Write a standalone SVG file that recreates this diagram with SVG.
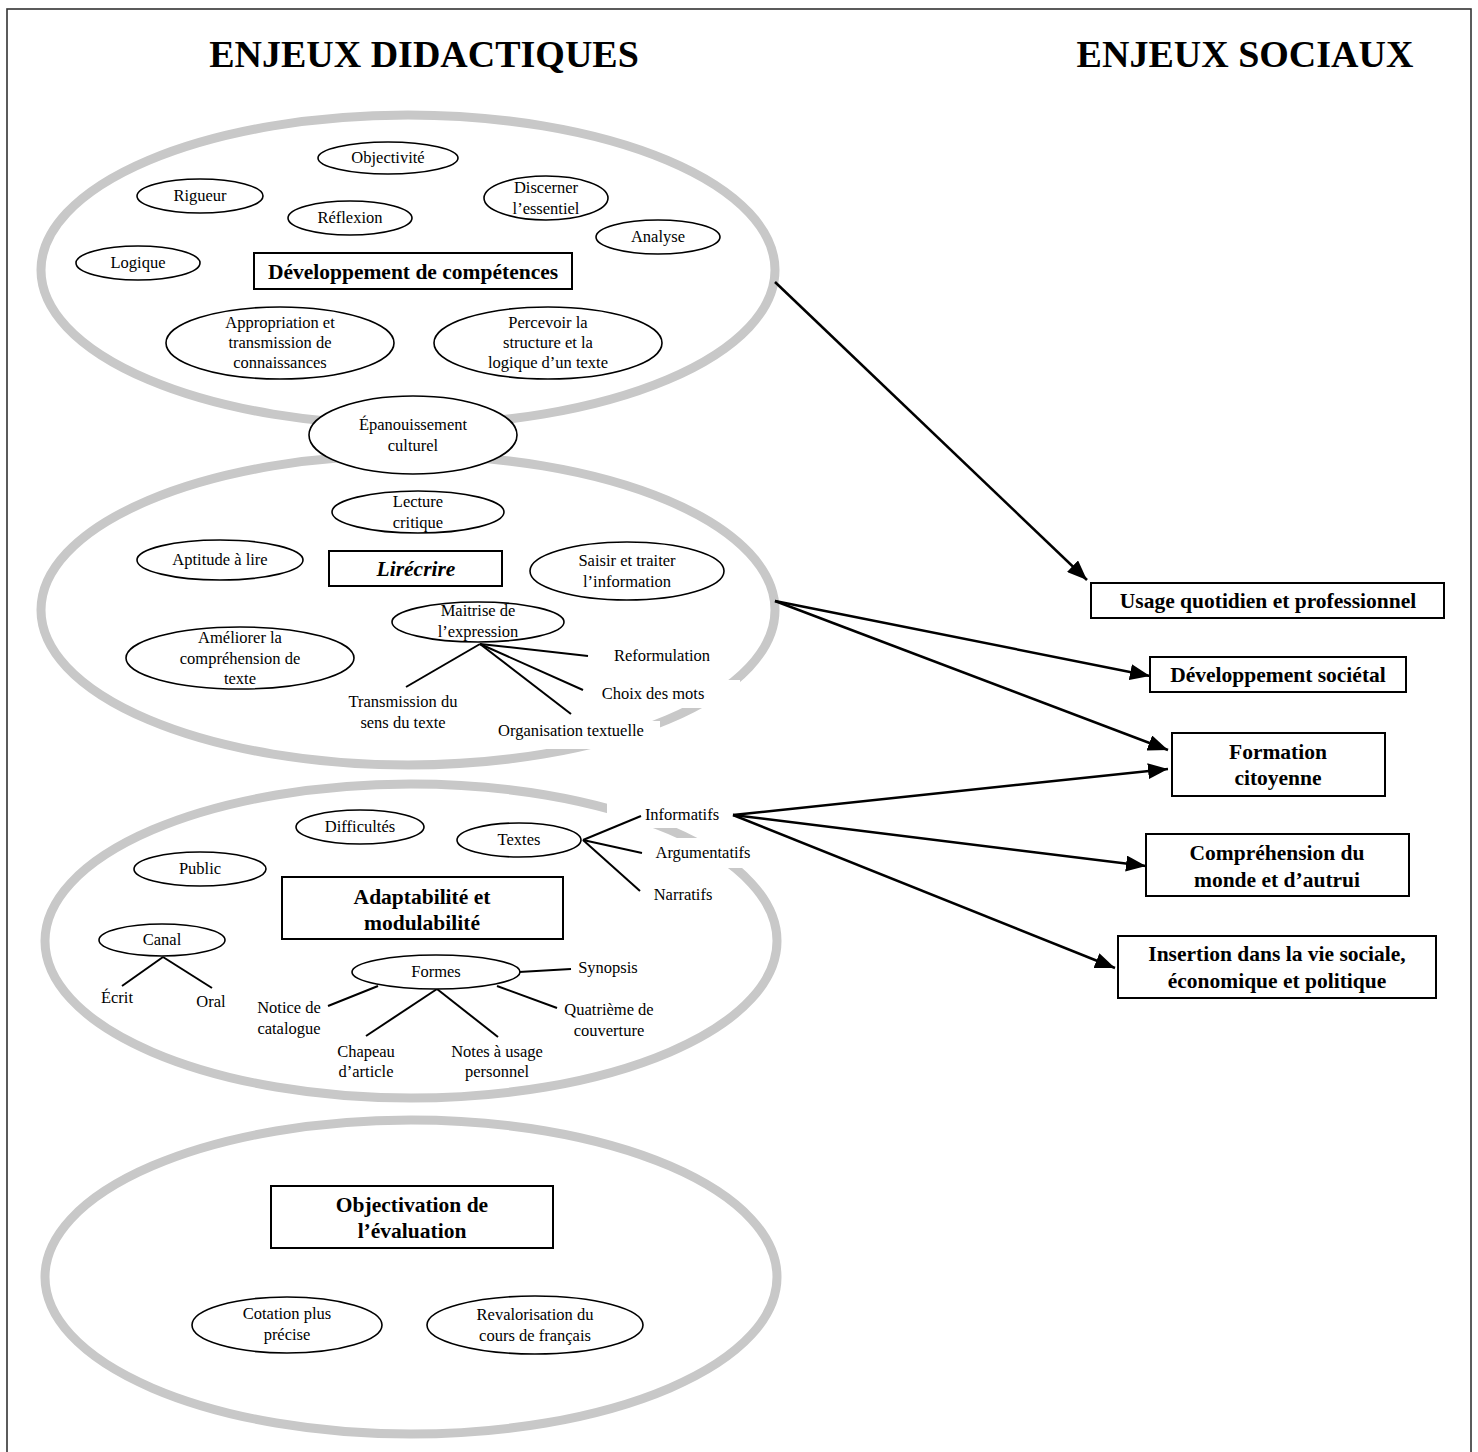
<svg xmlns="http://www.w3.org/2000/svg" width="1478" height="1452" viewBox="0 0 1478 1452">
<defs>
<style>
.ring{fill:none;stroke:#c8c8c8;stroke-width:9}
.oval{fill:#fff;stroke:#000;stroke-width:1.6}
.box{fill:#fff;stroke:#000;stroke-width:2}
.bg{fill:#fff;stroke:none}
.t{font-family:"Liberation Serif",serif;font-size:16.5px;text-anchor:middle;fill:#000}
.tb{font-family:"Liberation Serif",serif;font-size:21.5px;font-weight:bold;text-anchor:middle;fill:#000}
.th{font-family:"Liberation Serif",serif;font-size:38px;font-weight:bold;text-anchor:middle;fill:#000}
.ln{stroke:#000;stroke-width:2;fill:none}
.ar{stroke:#000;stroke-width:2.5;fill:none;marker-end:url(#ah)}
</style>
<marker id="ah" viewBox="0 0 20 16" markerUnits="userSpaceOnUse" markerWidth="20" markerHeight="16" refX="20" refY="8" orient="auto">
<path d="M0,0 L20,8 L0,16 z" fill="#000"/>
</marker>
</defs>
<rect x="0" y="0" width="1478" height="1452" fill="#fff"/>
<rect x="7" y="9" width="1464" height="1470" fill="none" stroke="#333" stroke-width="1.6"/>

<text class="th" x="424" y="67">ENJEUX DIDACTIQUES</text>
<text class="th" x="1245" y="67">ENJEUX SOCIAUX</text>

<g id="rings">
<ellipse class="ring" cx="408" cy="270" rx="367" ry="155"/>
<ellipse class="ring" cx="408" cy="610" rx="367" ry="155"/>
<ellipse class="ring" cx="411" cy="941" rx="366" ry="157"/>
<ellipse class="ring" cx="411" cy="1277" rx="366" ry="157"/>
</g>

<g id="label-backgrounds">
<rect class="bg" x="595" y="680" width="145" height="28"/>
<rect class="bg" x="494" y="721" width="166" height="28"/>
<rect class="bg" x="607" y="795" width="133" height="33"/>
<rect class="bg" x="645" y="838" width="120" height="30"/>
</g>

<g id="branches">
<line class="ln" x1="480" y1="644" x2="588" y2="656"/>
<line class="ln" x1="480" y1="644" x2="583" y2="690"/>
<line class="ln" x1="480" y1="644" x2="571" y2="714"/>
<line class="ln" x1="480" y1="644" x2="406" y2="687"/>
<line class="ln" x1="583" y1="840" x2="641" y2="816"/>
<line class="ln" x1="583" y1="840" x2="642" y2="853"/>
<line class="ln" x1="583" y1="840" x2="640" y2="891"/>
<line class="ln" x1="163" y1="957" x2="122" y2="986"/>
<line class="ln" x1="163" y1="957" x2="212" y2="988"/>
<line class="ln" x1="519" y1="972" x2="571" y2="969"/>
<line class="ln" x1="497" y1="986" x2="557" y2="1008"/>
<line class="ln" x1="437" y1="989" x2="366" y2="1036"/>
<line class="ln" x1="437" y1="989" x2="498" y2="1037"/>
<line class="ln" x1="378" y1="986" x2="328" y2="1006"/>
</g>

<g id="connectors">
<line class="ar" x1="775" y1="282" x2="1087" y2="580"/>
<line class="ar" x1="775" y1="601" x2="1150" y2="676"/>
<line class="ar" x1="775" y1="601" x2="1168" y2="750"/>
<line class="ar" x1="733" y1="815" x2="1168" y2="769"/>
<line class="ar" x1="733" y1="815" x2="1146" y2="866"/>
<line class="ar" x1="733" y1="815" x2="1115" y2="968"/>
</g>

<g id="n-objectivite"><ellipse class="oval" cx="388" cy="158" rx="70" ry="16"/><text class="t" x="388" y="163">Objectivité</text></g>
<g id="n-rigueur"><ellipse class="oval" cx="200" cy="196" rx="63" ry="17"/><text class="t" x="200" y="201">Rigueur</text></g>
<g id="n-reflexion"><ellipse class="oval" cx="350" cy="218" rx="62" ry="17"/><text class="t" x="350" y="223">Réflexion</text></g>
<g id="n-discerner"><ellipse class="oval" cx="546" cy="198" rx="62" ry="22"/><text class="t" x="546" y="193">Discerner</text><text class="t" x="546" y="214">l’essentiel</text></g>
<g id="n-analyse"><ellipse class="oval" cx="658" cy="237" rx="62" ry="17"/><text class="t" x="658" y="242">Analyse</text></g>
<g id="n-logique"><ellipse class="oval" cx="138" cy="263" rx="62" ry="17"/><text class="t" x="138" y="268">Logique</text></g>
<g id="n-devcomp"><rect class="box" x="254" y="253" width="318" height="36"/><text class="tb" x="413" y="279">Développement de compétences</text></g>
<g id="n-appropriation"><ellipse class="oval" cx="280" cy="343" rx="114" ry="36"/><text class="t" x="280" y="328">Appropriation et</text><text class="t" x="280" y="348">transmission de</text><text class="t" x="280" y="368">connaissances</text></g>
<g id="n-percevoir"><ellipse class="oval" cx="548" cy="343" rx="114" ry="36"/><text class="t" x="548" y="328">Percevoir la</text><text class="t" x="548" y="348">structure et la</text><text class="t" x="548" y="368">logique d’un texte</text></g>
<g id="n-epanouissement"><ellipse class="oval" cx="413" cy="435" rx="104" ry="39"/><text class="t" x="413" y="430">Épanouissement</text><text class="t" x="413" y="451">culturel</text></g>

<g id="n-lecture"><ellipse class="oval" cx="418" cy="512" rx="86" ry="21"/><text class="t" x="418" y="507">Lecture</text><text class="t" x="418" y="528">critique</text></g>
<g id="n-aptitude"><ellipse class="oval" cx="220" cy="560" rx="83" ry="20"/><text class="t" x="220" y="565">Aptitude à lire</text></g>
<g id="n-lirecrire"><rect class="box" x="329" y="551" width="173" height="35"/><text class="tb" x="416" y="576" font-style="italic">Lirécrire</text></g>
<g id="n-saisir"><ellipse class="oval" cx="627" cy="571" rx="97" ry="29"/><text class="t" x="627" y="566">Saisir et traiter</text><text class="t" x="627" y="587">l’information</text></g>
<g id="n-maitrise"><ellipse class="oval" cx="478" cy="622" rx="86" ry="20"/><text class="t" x="478" y="616">Maitrise de</text><text class="t" x="478" y="637">l’expression</text></g>
<g id="n-ameliorer"><ellipse class="oval" cx="240" cy="658" rx="114" ry="31"/><text class="t" x="240" y="643">Améliorer la</text><text class="t" x="240" y="664">compréhension de</text><text class="t" x="240" y="684">texte</text></g>
<g id="n-reformulation"><text class="t" x="662" y="661">Reformulation</text></g>
<g id="n-choix"><text class="t" x="653" y="699">Choix des mots</text></g>
<g id="n-organisation"><text class="t" x="571" y="736">Organisation textuelle</text></g>
<g id="n-transmission"><text class="t" x="403" y="707">Transmission du</text><text class="t" x="403" y="728">sens du texte</text></g>

<g id="n-difficultes"><ellipse class="oval" cx="360" cy="827" rx="64" ry="17"/><text class="t" x="360" y="832">Difficultés</text></g>
<g id="n-textes"><ellipse class="oval" cx="519" cy="840" rx="62" ry="17"/><text class="t" x="519" y="845">Textes</text></g>
<g id="n-public"><ellipse class="oval" cx="200" cy="869" rx="66" ry="17"/><text class="t" x="200" y="874">Public</text></g>
<g id="n-adaptabilite"><rect class="box" x="282" y="877" width="281" height="62"/><text class="tb" x="422" y="904">Adaptabilité et</text><text class="tb" x="422" y="930">modulabilité</text></g>
<g id="n-canal"><ellipse class="oval" cx="162" cy="940" rx="63" ry="16"/><text class="t" x="162" y="945">Canal</text></g>
<g id="n-ecrit"><text class="t" x="117" y="1003">Écrit</text></g>
<g id="n-oral"><text class="t" x="211" y="1007">Oral</text></g>
<g id="n-formes"><ellipse class="oval" cx="436" cy="972" rx="84" ry="17"/><text class="t" x="436" y="977">Formes</text></g>
<g id="n-synopsis"><text class="t" x="608" y="973">Synopsis</text></g>
<g id="n-quatrieme"><text class="t" x="609" y="1015">Quatrième de</text><text class="t" x="609" y="1036">couverture</text></g>
<g id="n-notice"><text class="t" x="289" y="1013">Notice de</text><text class="t" x="289" y="1034">catalogue</text></g>
<g id="n-chapeau"><text class="t" x="366" y="1057">Chapeau</text><text class="t" x="366" y="1077">d’article</text></g>
<g id="n-notes"><text class="t" x="497" y="1057">Notes à usage</text><text class="t" x="497" y="1077">personnel</text></g>
<g id="n-informatifs"><text class="t" x="682" y="820">Informatifs</text></g>
<g id="n-argumentatifs"><text class="t" x="703" y="858">Argumentatifs</text></g>
<g id="n-narratifs"><text class="t" x="683" y="900">Narratifs</text></g>

<g id="n-objectivation"><rect class="box" x="271" y="1186" width="282" height="62"/><text class="tb" x="412" y="1212">Objectivation de</text><text class="tb" x="412" y="1238">l’évaluation</text></g>
<g id="n-cotation"><ellipse class="oval" cx="287" cy="1325" rx="95" ry="28"/><text class="t" x="287" y="1319">Cotation plus</text><text class="t" x="287" y="1340">précise</text></g>
<g id="n-revalorisation"><ellipse class="oval" cx="535" cy="1325" rx="108" ry="29"/><text class="t" x="535" y="1320">Revalorisation du</text><text class="t" x="535" y="1341">cours de français</text></g>

<g id="n-usage"><rect class="box" x="1091" y="583" width="353" height="35"/><text class="tb" x="1268" y="608">Usage quotidien et professionnel</text></g>
<g id="n-devsoc"><rect class="box" x="1150" y="657" width="256" height="35"/><text class="tb" x="1278" y="682">Développement sociétal</text></g>
<g id="n-formation"><rect class="box" x="1172" y="733" width="213" height="63"/><text class="tb" x="1278" y="759">Formation</text><text class="tb" x="1278" y="785">citoyenne</text></g>
<g id="n-comprehension"><rect class="box" x="1146" y="834" width="263" height="62"/><text class="tb" x="1277" y="860">Compréhension du</text><text class="tb" x="1277" y="887">monde et d’autrui</text></g>
<g id="n-insertion"><rect class="box" x="1118" y="936" width="318" height="62"/><text class="tb" x="1277" y="961">Insertion dans la vie sociale,</text><text class="tb" x="1277" y="988">économique et politique</text></g>
</svg>
